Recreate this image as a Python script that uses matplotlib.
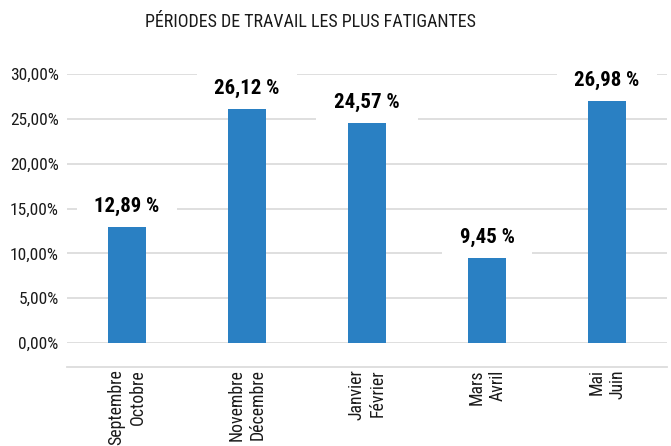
import matplotlib
matplotlib.use("Agg")
import matplotlib.pyplot as plt
from matplotlib import font_manager

categories = ["Septembre\nOctobre", "Novembre\nDécembre", "Janvier\nFévrier", "Mars\nAvril", "Mai\nJuin"]
values = [12.89, 26.12, 24.57, 9.45, 26.98]
value_labels = ["12,89 %", "26,12 %", "24,57 %", "9,45 %", "26,98 %"]
yticks = [0, 5, 10, 15, 20, 25, 30]
ytick_labels = ["0,00%", "5,00%", "10,00%", "15,00%", "20,00%", "25,00%", "30,00%"]
title = "PÉRIODES DE TRAVAIL LES PLUS FATIGANTES"

# pick the narrowest available family
fl = font_manager.fontManager.ttflist
fam, stretch = None, 'normal'
for key in ("Roboto Condensed", "Open Sans Condensed", "Liberation Sans Narrow", "Noto Sans Condensed"):
    if any(f.name == key for f in fl):
        fam = key
        break
if fam is None:
    cond = [f for f in fl if str(f.stretch) in ('condensed', 'semi-condensed', 'extra-condensed', '300', '400')]
    if cond:
        fam = cond[0].name
        stretch = 'condensed'
if fam is None:
    fam = "Roboto"
plt.rcParams['font.family'] = [fam, 'DejaVu Sans']
plt.rcParams['font.stretch'] = stretch

bar_color = "#2a80c3"
grid_color = "#dcdcdc"
text_color = "#1a1a1a"

fig = plt.figure(figsize=(6.71, 4.46), dpi=100)
ax = fig.add_axes([67/671, 1-343/446, 600/671, (343-74)/446])

for s in ['left', 'right', 'top']:
    ax.spines[s].set_visible(False)
ax.spines['bottom'].set_position(('outward', 17.5))
ax.spines['bottom'].set_color(grid_color)
ax.spines['bottom'].set_linewidth(1.3)

x = list(range(len(categories)))
ax.bar(x, values, width=0.31, color=bar_color, zorder=3)
ax.set_xlim(-0.5, len(categories)-0.5)
ax.set_ylim(0, 30)
ax.set_yticks(yticks)
ax.set_yticklabels(ytick_labels, fontsize=12.5, color=text_color)
ax.yaxis.grid(True, color=grid_color, linewidth=1.3, zorder=0)
ax.set_axisbelow(True)
ax.tick_params(axis='y', length=0, pad=6)
ax.tick_params(axis='x', length=0, pad=1.5, labelrotation=90)
ax.set_xticks(x)
ax.set_xticklabels(categories, rotation=90, fontsize=12.8, va='top', ha='center',
                   multialignment='right', linespacing=1.2, color=text_color)

for xi, v, lab in zip(x, values, value_labels):
    ax.annotate(lab, (xi, v), xytext=(0, 8), textcoords='offset points',
                ha='center', va='bottom', fontsize=15, fontweight='bold', color='black',
                bbox=dict(boxstyle='square,pad=0.85', fc='white', ec='none'), zorder=2)

fig.text(310/671, 1-22/446, title, ha='center', va='center', fontsize=13, color=text_color)

fig.savefig("out.png", dpi=100)
